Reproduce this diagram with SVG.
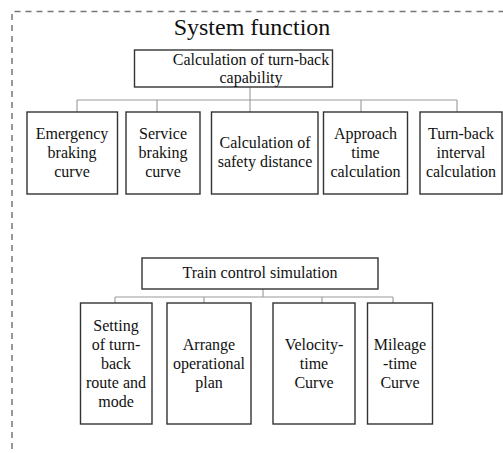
<svg xmlns="http://www.w3.org/2000/svg" width="503" height="453" viewBox="0 0 503 453">
<style>
  .t { font-family: "Liberation Serif", "Times New Roman", serif; font-size: 16px; fill: #111; text-anchor: middle; }
  .title { font-family: "Liberation Serif", "Times New Roman", serif; font-size: 24px; fill: #111; text-anchor: middle; }
  .box { fill: #fff; stroke: #333; stroke-width: 1.4; }
  .conn { fill: none; stroke: #9a9a9a; stroke-width: 1.1; }
  .frame { fill: none; stroke: #777; stroke-width: 1.5; stroke-dasharray: 6 5; }
</style>
<rect width="503" height="453" fill="#fff"/>
<path class="frame" d="M12 460 V11.5 H510"/>
<text class="title" x="252" y="35">System function</text>

<g id="connectors">
  <path class="conn" d="M250 87 V100 M77 100 H457 M77 100 V112 M157 100 V112 M250 100 V112 M361 100 V112 M457 100 V112"/>
  <path class="conn" d="M263 289 V297 M115 297 H393 M115 297 V303 M204 297 V303 M322 297 V303 M393 297 V303"/>
</g>

<g id="n-turnback">
  <rect class="box" x="134.5" y="50" width="198" height="37"/>
  <text class="t" x="251" y="65">Calculation of turn-back</text>
  <text class="t" x="251" y="83">capability</text>
</g>
<g id="n-emergency">
  <rect class="box" x="27" y="112" width="90.5" height="82"/>
  <text class="t" x="72" y="139">Emergency</text>
  <text class="t" x="72" y="158">braking</text>
  <text class="t" x="72" y="177">curve</text>
</g>
<g id="n-service">
  <rect class="box" x="126" y="112" width="74" height="82"/>
  <text class="t" x="163" y="139">Service</text>
  <text class="t" x="163" y="158">braking</text>
  <text class="t" x="163" y="177">curve</text>
</g>
<g id="n-safety">
  <rect class="box" x="211.5" y="112" width="106.5" height="82"/>
  <text class="t" x="265" y="148">Calculation of</text>
  <text class="t" x="265" y="167">safety distance</text>
</g>
<g id="n-approach">
  <rect class="box" x="323.5" y="112" width="84" height="82"/>
  <text class="t" x="365.5" y="139">Approach</text>
  <text class="t" x="365.5" y="158">time</text>
  <text class="t" x="365.5" y="177">calculation</text>
</g>
<g id="n-interval">
  <rect class="box" x="420" y="112" width="82" height="82"/>
  <text class="t" x="461" y="139">Turn-back</text>
  <text class="t" x="461" y="158">interval</text>
  <text class="t" x="461" y="177">calculation</text>
</g>

<g id="n-sim">
  <rect class="box" x="142" y="258" width="236" height="31"/>
  <text class="t" x="260" y="278">Train control simulation</text>
</g>
<g id="n-route">
  <rect class="box" x="80.5" y="303" width="71.5" height="121"/>
  <text class="t" x="116" y="331">Setting</text>
  <text class="t" x="116" y="350">of turn-</text>
  <text class="t" x="116" y="369">back</text>
  <text class="t" x="116" y="388">route and</text>
  <text class="t" x="116" y="407">mode</text>
</g>
<g id="n-plan">
  <rect class="box" x="167" y="303" width="84" height="121"/>
  <text class="t" x="209" y="350">Arrange</text>
  <text class="t" x="209" y="369">operational</text>
  <text class="t" x="209" y="388">plan</text>
</g>
<g id="n-velocity">
  <rect class="box" x="273" y="303" width="82" height="121"/>
  <text class="t" x="314" y="350">Velocity-</text>
  <text class="t" x="314" y="369">time</text>
  <text class="t" x="314" y="388">Curve</text>
</g>
<g id="n-mileage">
  <rect class="box" x="367.5" y="303" width="65" height="121"/>
  <text class="t" x="400" y="350">Mileage</text>
  <text class="t" x="400" y="369">-time</text>
  <text class="t" x="400" y="388">Curve</text>
</g>
</svg>
